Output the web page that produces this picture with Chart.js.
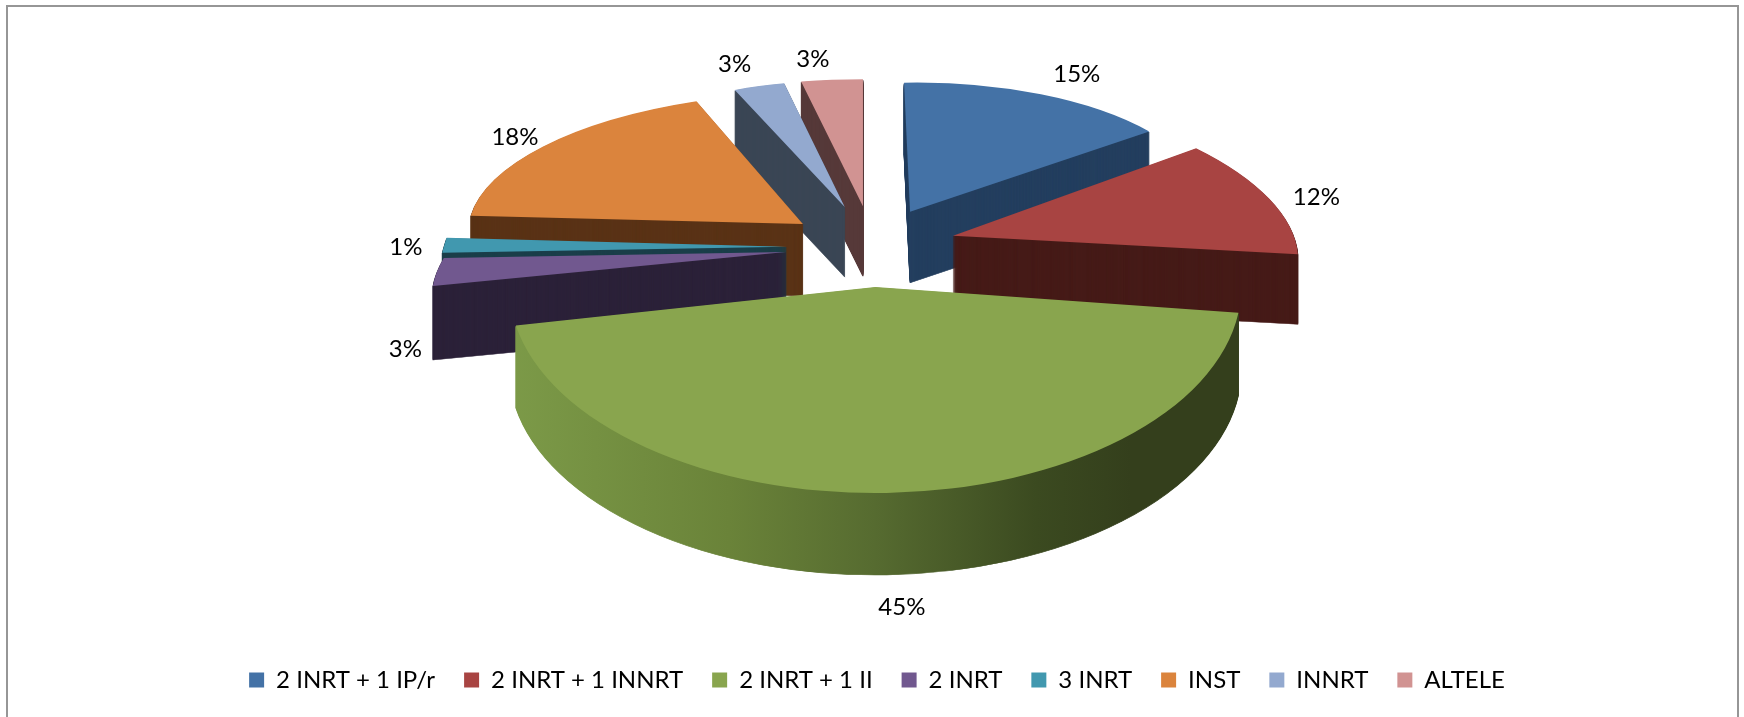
<!DOCTYPE html>
<html>
<head>
<meta charset="utf-8">
<title>Pie</title>
<script src="https://cdn.jsdelivr.net/npm/chart.js@4/dist/chart.umd.min.js"></script>
<style>
    html, body { margin: 0; padding: 0; background: #fff; }
    #wrap { position: relative; width: 1744px; height: 717px; overflow: hidden; }
    #frame { position: absolute; left: 6px; top: 5px; width: 1729px; height: 760px; border: 2px solid #969696; }
    #myChart { position: absolute; left: 0; top: 0; }
</style>
</head>
<body>
<div id="wrap">
    <div id="frame"></div>
    <canvas id="myChart" width="1744" height="717"></canvas>
</div>
<script>
const categories = ['2 INRT + 1 IP/r', '2 INRT + 1 INNRT', '2 INRT + 1 II', '2 INRT', '3 INRT', 'INST', 'INNRT', 'ALTELE'];
const shares = [15, 12, 45, 3, 1, 18, 3, 3];

const topColors = ['#4472A6', '#A84442', '#89A54E', '#71588F', '#4198AF', '#DB843D', '#93A9CF', '#D19392'];
const sideColors = ['#243F5F', '#461B18', '#566B30', '#2C2239', '#1B3F4A', '#5A3316', '#3A4555', '#573A3A'];

// fake 3D: each slice gets its own projection, because the original has perspective
const pieCenter = {x: 873, y: 245};
const pieRadius = 300;
const stretchX = [1.0, 1.135, 1.22, 1.14, 1.147, 1.113, 0.92, 1.1];
const tilt = [0.43, 0.496, 0.687, 0.5, 0.79, 0.44, 0.42, 0.423];
const shearX = [0.02, 0.184, 0, -0.3, -0.2, -0.059, 0.03, 0];
const shearY = [-0.018, 0, 0, -0.02, -0.02, 0, 0, 0];
const explode = [85, 76, 61, 75, 76, 81, 99, 97];
const liftY = [0, 0, 0, 2, 2, 0, 2, 2];
const depth = [71, 70, 82, 74, 72, 72, 70, 70];
const paintOrder = [7, 6, 0, 1, 5, 4, 3, 2];
const labelNudgeX = [29, 30, 15, -42, -36, -15, -36, -19];
const labelNudgeY = [-23, -1, 114, 87, 12, -9, -20, -19];

function sideFill(ctx, i, el) {
    if (i !== 2) {
        return sideColors[i];
    }
    const g = ctx.createLinearGradient(el.x - pieRadius, 0, el.x + pieRadius, 0);
    g.addColorStop(0, '#7C9A48');
    g.addColorStop(0.3, '#6A8339');
    g.addColorStop(0.5, '#566B30');
    g.addColorStop(0.72, '#3B4A20');
    g.addColorStop(0.85, '#343F1C');
    g.addColorStop(1, '#343F1C');
    return g;
}

const pie3d = {
    id: 'pie3d',
    beforeDatasetsDraw(chart) {
        const ctx = chart.ctx;
        const arcs = chart.getDatasetMeta(0).data;
        paintOrder.forEach((i) => {
            const el = arcs[i];
            const base = el.options;
            const mid = (el.startAngle + el.endAngle) / 2;
            const side = sideFill(ctx, i, el);
            for (let h = depth[i]; h >= 0; h--) {
                el.options = Object.assign({}, base, {
                    backgroundColor: h === 0 ? topColors[i] : side,
                    borderColor: side,
                    borderWidth: h === 0 ? 0 : 1 // thin wedges go see-through near the tip without this
                });
                ctx.save();
                ctx.translate(pieCenter.x, pieCenter.y + liftY[i] + h);
                ctx.transform(stretchX[i], shearY[i], shearX[i], tilt[i], 0, 0);
                ctx.translate(Math.cos(mid) * explode[i], Math.sin(mid) * explode[i]);
                ctx.translate(-el.x, -el.y);
                el.draw(ctx);
                ctx.restore();
            }
            el.options = base;
        });
        return false;
    },
    afterDraw(chart) {
        const ctx = chart.ctx;
        const arcs = chart.getDatasetMeta(0).data;
        ctx.save();
        ctx.fillStyle = '#000';
        ctx.font = '24px Lato';
        ctx.textAlign = 'center';
        ctx.textBaseline = 'middle';
        arcs.forEach((el, i) => {
            const mid = (el.startAngle + el.endAngle) / 2;
            const r = el.outerRadius + explode[i];
            const x = pieCenter.x + stretchX[i] * r * Math.cos(mid) + labelNudgeX[i];
            const y = pieCenter.y + tilt[i] * r * Math.sin(mid) + labelNudgeY[i];
            ctx.fillText(shares[i] + '%', x, y);
        });
        ctx.restore();
    }
};

new Chart(document.getElementById('myChart'), {
    type: 'pie',
    data: {
        labels: categories,
        datasets: [{
            data: shares,
            backgroundColor: topColors,
            borderWidth: 0
        }]
    },
    options: {
        responsive: false,
        animation: false,
        radius: pieRadius,
        layout: { padding: { left: 10, bottom: 15 } },
        plugins: {
            tooltip: { enabled: false },
            legend: {
                position: 'bottom',
                labels: {
                    boxWidth: 15,
                    boxHeight: 15,
                    padding: 29,
                    color: '#000',
                    font: { family: 'Lato', size: 24 }
                }
            }
        }
    },
    plugins: [pie3d]
});
</script>
</body>
</html>
